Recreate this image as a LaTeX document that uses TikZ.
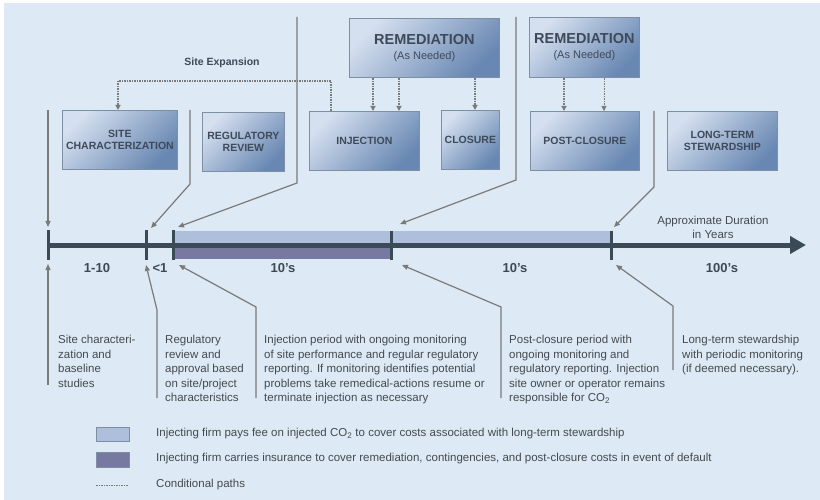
\documentclass[tikz,border=0pt]{standalone}
\usepackage{fontspec}
\setmainfont{Liberation Sans}
\usetikzlibrary{arrows.meta,calc}
\definecolor{bg}{HTML}{DDE9F4}
\definecolor{boxlight}{HTML}{D4DFEF}
\definecolor{boxdark}{HTML}{6887B2}
\definecolor{boxedge}{HTML}{7E8FA3}
\definecolor{boxtext}{HTML}{3E4A5A}
\definecolor{tl}{HTML}{3A4A57}
\definecolor{pointer}{HTML}{7A7A7A}
\definecolor{bandlight}{HTML}{AEBFDC}
\definecolor{banddark}{HTML}{7779A0}
\definecolor{txt}{HTML}{454A50}
\tikzset{
  stage/.style={draw=boxedge, line width=0.8pt, top color=boxlight, bottom color=boxdark, shading angle=45,
    anchor=north west, inner sep=0pt, align=center, font=\bfseries\fontsize{10.5}{12.5}\selectfont, text=boxtext},
  cond/.style={draw=pointer, line width=1.3pt, dash pattern=on 2pt off 1pt on 1pt off 1pt,
    -{Triangle[length=5pt,width=5pt]}},
  ptr/.style={draw=pointer, line width=1.2pt, -{Triangle[length=6pt,width=5pt]}},
  tick/.style={draw=tl, line width=3pt},
  tlab/.style={font=\bfseries\fontsize{13}{15}\selectfont, text=tl, inner sep=0pt},
  desc/.style={anchor=north west, inner sep=0pt, align=left, font=\fontsize{11.5}{14.5}\selectfont, text=txt},
  legtext/.style={anchor=west, inner sep=0pt, font=\fontsize{11.5}{13}\selectfont, text=txt},
  legbox/.style={draw=boxedge, line width=0.8pt, minimum width=33pt, minimum height=14pt, anchor=north west, inner sep=0pt}
}
\begin{document}
\begin{tikzpicture}[x=1pt,y=-1pt]
\useasboundingbox (0,0) rectangle (820,500);
\fill[white] (0,0) rectangle (820,500);
\fill[bg] (4,3) rectangle (820,500);

% stage boxes
\node[stage, minimum width=115pt, minimum height=59pt] (sc) at (62,110) {SITE\\CHARACTERIZATION};
\node[stage, minimum width=82pt, minimum height=59pt] (rr) at (202,112) {REGULATORY\\REVIEW};
\node[stage, minimum width=110pt, minimum height=59pt] (inj) at (309,111) {INJECTION};
\node[stage, minimum width=58pt, minimum height=59pt] (clo) at (441,110) {CLOSURE};
\node[stage, minimum width=109pt, minimum height=59pt] (pc) at (530,111) {POST-CLOSURE};
\node[stage, minimum width=110pt, minimum height=59pt] (lts) at (667,111) {LONG-TERM\\STEWARDSHIP};
\node[stage, minimum width=150pt, minimum height=59pt] (rem1) at (349,18)
  {{\fontsize{14.5}{14}\selectfont REMEDIATION}\\[2.5pt]{\mdseries\fontsize{11}{13}\selectfont (As Needed)}};
\node[stage, minimum width=110pt, minimum height=60pt] (rem2) at (529,17)
  {{\fontsize{14.5}{14}\selectfont REMEDIATION}\\[2.5pt]{\mdseries\fontsize{11}{13}\selectfont (As Needed)}};

% conditional paths
\draw[cond] ([xshift=22pt]inj.north west) -- ++(0,-30) -| ([xshift=56pt]sc.north west);
\node[font=\bfseries\fontsize{10.5}{12}\selectfont, text=boxtext] (exp) at (222,63) {Site Expansion};
\draw[cond] ([xshift=24pt]rem1.south west) -- ([xshift=24pt]rem1.south west |- inj.north);
\draw[cond] ([xshift=50pt]rem1.south west) -- ([xshift=50pt]rem1.south west |- inj.north);
\draw[cond] ([xshift=126pt]rem1.south west) -- ([xshift=126pt]rem1.south west |- clo.north);
\draw[cond] ([xshift=35pt]rem2.south west) -- ([xshift=35pt]rem2.south west |- pc.north);
\draw[cond, line width=0.7pt] ([xshift=75pt]rem2.south west) -- ([xshift=75pt]rem2.south west |- pc.north);

% timeline
\fill[bandlight] (173,231) rectangle (611,245);
\fill[banddark] (173,245) rectangle (391,259);
\coordinate (t0) at (48,245);
\coordinate (tend) at (806,245);
\draw[tl, line width=5pt, -{Triangle[length=16pt,width=17pt]}] (t0) -- (tend);
\draw[tick] (48,230) -- (48,260);
\draw[tick] (146,230) -- (146,260);
\draw[tick] (173,230) -- (173,260);
\draw[tick] (391,231) -- (391,260);
\draw[tick] (611,231) -- (611,260);

\node[tlab] (d1) at (97,268) {1-10};
\node[tlab] (d2) at (160,268) {<1};
\node[tlab] (d3) at (283,268) {10's};
\node[tlab] (d4) at (515,268) {10's};
\node[tlab] (d5) at (722,268) {100's};
\node[align=center, inner sep=0pt, font=\fontsize{11.5}{14}\selectfont, text=txt] (dur) at (713,227) {Approximate Duration\\in Years};

% top pointers
\coordinate (p1s) at (48,110);   \coordinate (p1e) at (48,227);
\coordinate (p2s) at (190,110);  \coordinate (p2e) at (151,228);
\coordinate (p3s) at (297,17);   \coordinate (p3e) at (178,227);
\coordinate (p4s) at (516,17);   \coordinate (p4e) at (400,224);
\coordinate (p5s) at (654,111);  \coordinate (p5e) at (614,227);
\draw[ptr] (p1s) -- (p1e);
\draw[ptr] (p2s) -- (190,184) -- (p2e);
\draw[ptr] (p3s) -- (297,183) -- (p3e);
\draw[ptr] (p4s) -- (516,180) -- (p4e);
\draw[ptr] (p5s) -- (654,187) -- (p5e);

% bottom pointers
\coordinate (q1s) at (48,385);   \coordinate (q1e) at (48,264);
\coordinate (q2s) at (157,398);  \coordinate (q2e) at (146,265);
\coordinate (q3s) at (256,398);  \coordinate (q3e) at (179,265);
\coordinate (q4s) at (501,398);  \coordinate (q4e) at (402,265);
\coordinate (q5s) at (673,370);  \coordinate (q5e) at (616,265);
\draw[ptr] (q1s) -- (q1e);
\draw[ptr] (q2s) -- (157,310) -- (q2e);
\draw[ptr] (q3s) -- (256,307) -- (q3e);
\draw[ptr] (q4s) -- (501,307) -- (q4e);
\draw[ptr] (q5s) -- (673,306) -- (q5e);

% descriptions
\node[desc] (x1) at (58,335) {Site characteri-\\zation and\\baseline\\studies};
\node[desc] (x2) at (165,335) {Regulatory\\review and\\approval based\\on site/project\\characteristics};
\node[desc] (x3) at (264,335) {Injection period with ongoing monitoring\\of site performance and regular regulatory\\reporting. If monitoring identifies potential\\problems take remedical-actions resume or\\terminate injection as necessary};
\node[desc] (x4) at (509,335) {Post-closure period with\\ongoing monitoring and\\regulatory reporting. Injection\\site owner or operator remains\\responsible for CO\textsubscript{2}};
\node[desc] (x5) at (682,335) {Long-term stewardship\\with periodic monitoring\\(if deemed necessary).};

% legend
\node[legbox, fill=bandlight] (lg1) at (96,427) {};
\node[legbox, fill=banddark, minimum height=15pt] (lg2) at (96,452) {};
\coordinate (lg3a) at (96,485);
\coordinate (lg3b) at (129,485);
\draw[draw=pointer, line width=1pt, dash pattern=on 2pt off 1pt on 1pt off 1pt] (lg3a) -- (lg3b);
\node[legtext] (lt1) at (156,434) {Injecting firm pays fee on injected CO\textsubscript{2} to cover costs associated with long-term stewardship};
\node[legtext] (lt2) at (156,459) {Injecting firm carries insurance to cover remediation, contingencies, and post-closure costs in event of default};
\node[legtext] (lt3) at (156,485) {Conditional paths};
\end{tikzpicture}
\end{document}
